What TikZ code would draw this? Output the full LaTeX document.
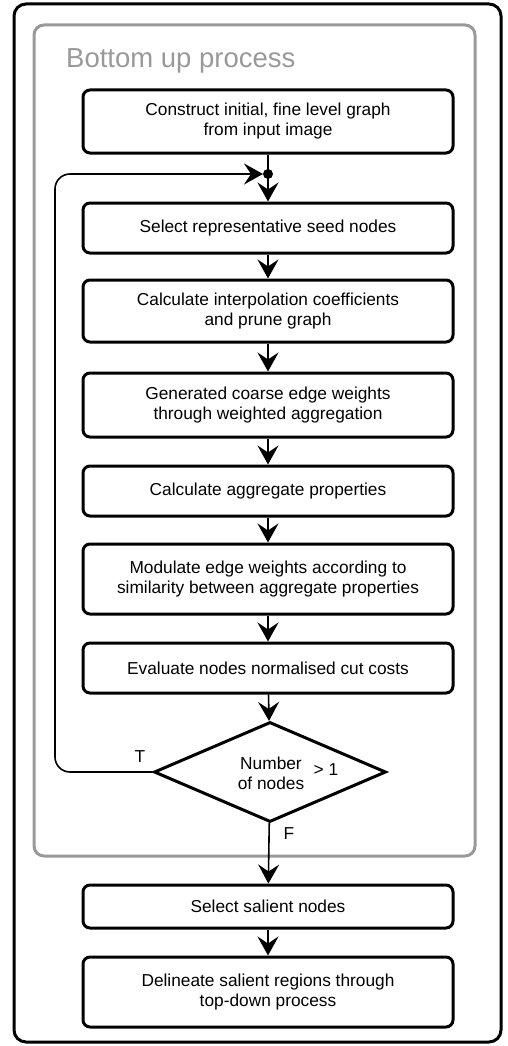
\documentclass[tikz,border=0pt]{standalone}
\usepackage{fontspec}
\setmainfont{Liberation Sans}
\usetikzlibrary{shapes.geometric}
\usetikzlibrary{arrows.meta}

\tikzset{
  procbox/.style={draw, line width=3pt, rounded corners=7pt, minimum width=370pt, align=center, inner sep=0pt, font=\fontsize{17.3}{20}\selectfont},
  flow/.style={line width=1.6pt, -{Stealth[length=19pt, width=21pt, inset=7pt]}},
  lbl/.style={font=\fontsize{17.3}{20}\selectfont, inner sep=0pt}
}

\begin{document}
\begin{tikzpicture}[x=1pt, y=-1pt]
    \useasboundingbox (0,0) rectangle (507,1046);
    \draw[line width=3pt, rounded corners=12pt] (14,4) rectangle (501,1042);
    \draw[black!40, line width=3pt, rounded corners=10pt] (34,25) rectangle (475,856);
    \node[lbl, font=\fontsize{27.5}{30}\selectfont, text=black!40, anchor=base west] (title) at (66,68) {Bottom up process};

    \node[procbox, minimum height=63pt] (init) at (268,121.5) {Construct initial, fine level graph\\from input image};
    \node[procbox, minimum height=50pt] (seed) at (268,228) {Select representative seed nodes};
    \node[procbox, minimum height=62pt] (interp) at (268,311) {Calculate interpolation coefficients\\and prune graph};
    \node[procbox, minimum height=64pt] (coarse) at (268,405) {Generated coarse edge weights\\through weighted aggregation};
    \node[procbox, minimum height=50pt] (aggr) at (268,491) {Calculate aggregate properties};
    \node[procbox, minimum height=70pt] (modul) at (268,579) {Modulate edge weights according to\\similarity between aggregate properties};
    \node[procbox, minimum height=50pt] (cutcost) at (268,668) {Evaluate nodes normalised cut costs};
    \node[draw, diamond, line width=3pt, aspect=2.32, minimum width=232pt, minimum height=100pt, inner sep=0pt] (decide) at (270,772) {};
    \node[lbl, align=center] (count) at (271,773) {Number\\of nodes};
    \node[lbl] (gt) at (326,770) {> 1};
    \node[procbox, minimum height=43pt] (salient) at (268,906.5) {Select salient nodes};
    \node[procbox, minimum height=70pt] (delin) at (268,992) {Delineate salient regions through\\top-down process};

    \coordinate (join) at (268,174);
    \draw[flow] (init) -- (seed);
    \fill (join) circle (5pt);
    \draw[flow] (seed) -- (interp);
    \draw[flow] (interp) -- (coarse);
    \draw[flow] (coarse) -- (aggr);
    \draw[flow] (aggr) -- (modul);
    \draw[flow] (modul) -- (cutcost);
    \draw[flow] (cutcost) -- (decide);
    \draw[flow, rounded corners=15pt, shorten >=5pt] (decide.west) -- (55,772) -- (55,174) -- (join);
    \draw[flow] (decide) -- (salient);
    \draw[flow] (salient) -- (delin);
    \node[lbl] (true) at (140,757) {T};
    \node[lbl] (false) at (289,834) {F};
  \end{tikzpicture}
\end{document}
